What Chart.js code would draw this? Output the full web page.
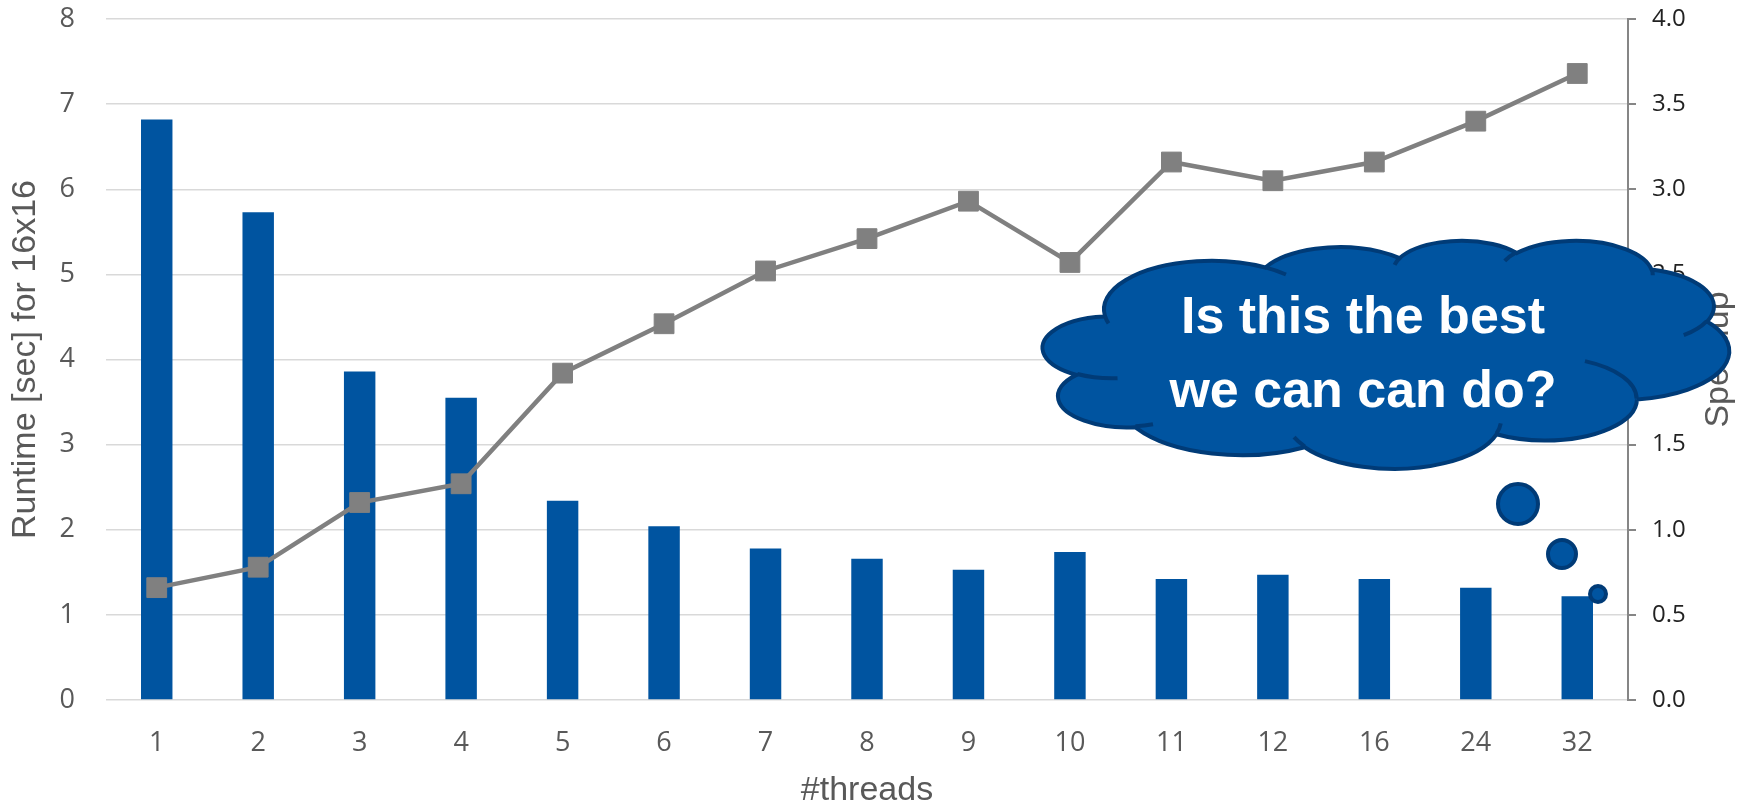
<!DOCTYPE html>
<html>
<head>
<meta charset="utf-8">
<script src="https://cdn.jsdelivr.net/npm/chart.js@4.4.1/dist/chart.umd.min.js"></script>
<style>
  html, body { margin: 0; padding: 0; background: #fff; }
  #wrap { width: 1748px; height: 808px; position: relative; }
</style>
</head>
<body>
<div id="wrap"><canvas id="chart"></canvas></div>
<script>
// data
const threads = ['1', '2', '3', '4', '5', '6', '7', '8', '9', '10', '11', '12', '16', '24', '32'];
const runtime = [6.82, 5.73, 3.86, 3.55, 2.34, 2.04, 1.78, 1.66, 1.53, 1.74, 1.42, 1.47, 1.42, 1.32, 1.22];
const speedup = [0.66, 0.78, 1.16, 1.27, 1.92, 2.21, 2.52, 2.71, 2.93, 2.57, 3.16, 3.05, 3.16, 3.40, 3.68];
const cloudLines = ['Is this the best', 'we can can do?'];

const blue = '#0054a0';
const cloudEdge = '#003b77';
const grey = '#808080';
const textGrey = '#595959';
const titleFont = "'Liberation Sans', Arial, sans-serif";
const tickFont = "'Open Sans', sans-serif";

// Office "cloud" shape, path units 43200 x 43200
const cloudArcs = [
    [6753, 9190, -11429249, 7426832],
    [5333, 7267, -8646143, 5396714],
    [4365, 5945, -8748475, 5983381],
    [4857, 6595, -7859164, 7034504],
    [5333, 7273, -4722533, 6541615],
    [6775, 9220, -2776035, 7816140],
    [5785, 7867, 37501, 6842000],
    [6752, 9215, 1347096, 6910353],
    [7720, 10543, 3974558, 4542661],
    [4360, 5918, -16496525, 8804134],
    [4345, 5945, -14809710, 9151131]
];
const cloudCreases = [
    [4693, 26177, 4345, 5945, 5204520, 1585770],
    [6928, 34899, 4360, 5918, 4416628, 686848],
    [16478, 39090, 6752, 9215, 8257449, 844866],
    [28827, 34751, 6752, 9215, 387196, 959901],
    [34129, 22954, 5785, 7867, -4217541, 4255042],
    [41798, 15354, 5333, 7273, 1819082, 1665090],
    [38324, 5426, 4857, 6595, -824660, 891534],
    [29078, 3952, 4857, 6595, -8950887, 1091722],
    [22141, 4720, 4365, 5945, -9809656, 1061181],
    [14000, 5192, 6753, 9190, -4002417, 739161],
    [4127, 15789, 6753, 9190, 9459261, 711490]
];

// DrawingML arcTo: angles in 1/60000 deg, measured from the ellipse centre
function arcTo(ctx, pos, wR, hR, stAng, swAng) {
    const a1 = stAng / 60000 * Math.PI / 180;
    const sw = swAng / 60000 * Math.PI / 180;
    const a2 = a1 + sw;
    const t1 = Math.atan2(wR * Math.sin(a1), hR * Math.cos(a1));
    let t2 = Math.atan2(wR * Math.sin(a2), hR * Math.cos(a2));
    if (sw > 0) { while (t2 <= t1) t2 += Math.PI * 2; }
    else { while (t2 >= t1) t2 -= Math.PI * 2; }
    const cx = pos.x - wR * Math.cos(t1);
    const cy = pos.y - hR * Math.sin(t1);
    ctx.ellipse(cx, cy, wR, hR, 0, t1, t2, sw < 0);
    pos.x = cx + wR * Math.cos(t2);
    pos.y = cy + hR * Math.sin(t2);
}

function drawCloud(ctx, x, y, w, h) {
    ctx.save();
    ctx.translate(x, y);
    ctx.scale(w / 43200, h / 43200);
    ctx.beginPath();
    const pos = { x: 3900, y: 14370 };
    ctx.moveTo(pos.x, pos.y);
    cloudArcs.forEach(a => arcTo(ctx, pos, a[0], a[1], a[2], a[3]));
    ctx.closePath();
    ctx.restore();
    ctx.fillStyle = blue;
    ctx.fill();
    ctx.lineWidth = 4;
    ctx.strokeStyle = cloudEdge;
    ctx.stroke();

    ctx.save();
    ctx.translate(x, y);
    ctx.scale(w / 43200, h / 43200);
    ctx.beginPath();
    cloudCreases.forEach(c => {
        const p = { x: c[0], y: c[1] };
        ctx.moveTo(p.x, p.y);
        arcTo(ctx, p, c[2], c[3], c[4], c[5]);
    });
    ctx.restore();
    ctx.stroke();
}

function bubble(ctx, x, y, r) {
    ctx.beginPath();
    ctx.arc(x, y, r, 0, Math.PI * 2);
    ctx.fillStyle = blue;
    ctx.fill();
    ctx.lineWidth = 4;
    ctx.strokeStyle = cloudEdge;
    ctx.stroke();
}

const cloudPlugin = {
    id: 'cloud',
    afterDraw(chart) {
        const ctx = chart.ctx;
        const area = chart.chartArea;

        // right axis title reads bottom to top
        ctx.save();
        ctx.translate(1719, (area.top + area.bottom) / 2);
        ctx.rotate(-Math.PI / 2);
        ctx.font = `34px ${titleFont}`;
        ctx.fillStyle = textGrey;
        ctx.textAlign = 'center';
        ctx.textBaseline = 'middle';
        ctx.fillText('Speedup', 0, 0);
        ctx.restore();

        ctx.save();
        drawCloud(ctx, 1043, 240, 686, 228);
        bubble(ctx, 1518, 504, 20);
        bubble(ctx, 1562, 554, 14);
        bubble(ctx, 1598, 594, 8);

        ctx.font = `bold 52px ${titleFont}`;
        ctx.fillStyle = '#ffffff';
        ctx.textAlign = 'center';
        ctx.textBaseline = 'alphabetic';
        ctx.fillText(cloudLines[0], 1363, 333);
        ctx.fillText(cloudLines[1], 1363, 407);
        ctx.restore();
    }
};

// keep the plot area where the picture has it
function pinVertical(width) {
    return s => {
        s.width = width;
        s.paddingTop = 19;
        s.paddingBottom = 0;
    };
}

new Chart(document.getElementById('chart'), {
    data: {
        labels: threads,
        datasets: [
            {
                type: 'line',
                label: 'Speedup',
                data: speedup,
                yAxisID: 'y1',
                borderColor: grey,
                borderWidth: 4.5,
                pointStyle: 'rect',
                pointRadius: 14,
                pointBackgroundColor: grey,
                pointBorderColor: grey,
                pointBorderWidth: 1,
                tension: 0,
                order: 0
            },
            {
                type: 'bar',
                label: 'Runtime',
                data: runtime,
                yAxisID: 'y',
                backgroundColor: blue,
                categoryPercentage: 1,
                barPercentage: 0.31,
                order: 1
            }
        ]
    },
    options: {
        responsive: true,
        maintainAspectRatio: false,
        animation: false,
        layout: { padding: 0 },
        plugins: {
            legend: { display: false },
            tooltip: { enabled: false }
        },
        scales: {
            x: {
                grid: { display: false, drawTicks: false },
                border: { display: false },
                ticks: { color: textGrey, font: { family: tickFont, size: 27 }, padding: 27 },
                title: {
                    display: true,
                    text: '#threads',
                    color: textGrey,
                    font: { family: titleFont, size: 34, lineHeight: 1 },
                    padding: 0
                },
                afterFit(s) { s.height = 108; }
            },
            y: {
                position: 'left',
                min: 0,
                max: 8,
                ticks: { stepSize: 1, color: textGrey, font: { family: tickFont, size: 27 }, padding: 31 },
                grid: { color: '#d9d9d9', lineWidth: 1.5, drawTicks: false },
                border: { display: false },
                title: {
                    display: true,
                    text: 'Runtime [sec] for 16x16',
                    color: textGrey,
                    font: { family: titleFont, size: 34, lineHeight: 1 },
                    padding: { top: 9, bottom: 0 }
                },
                afterFit: pinVertical(106)
            },
            y1: {
                position: 'right',
                min: 0,
                max: 4,
                ticks: {
                    stepSize: 0.5,
                    color: '#222222',
                    font: { family: tickFont, size: 24 },
                    padding: 16,
                    callback: v => v.toFixed(1)
                },
                grid: { drawOnChartArea: false, color: '#868686', lineWidth: 2, tickLength: 8 },
                border: { color: '#868686', width: 2 },
                afterFit: pinVertical(120)
            }
        }
    },
    plugins: [cloudPlugin]
});
</script>
</body>
</html>
